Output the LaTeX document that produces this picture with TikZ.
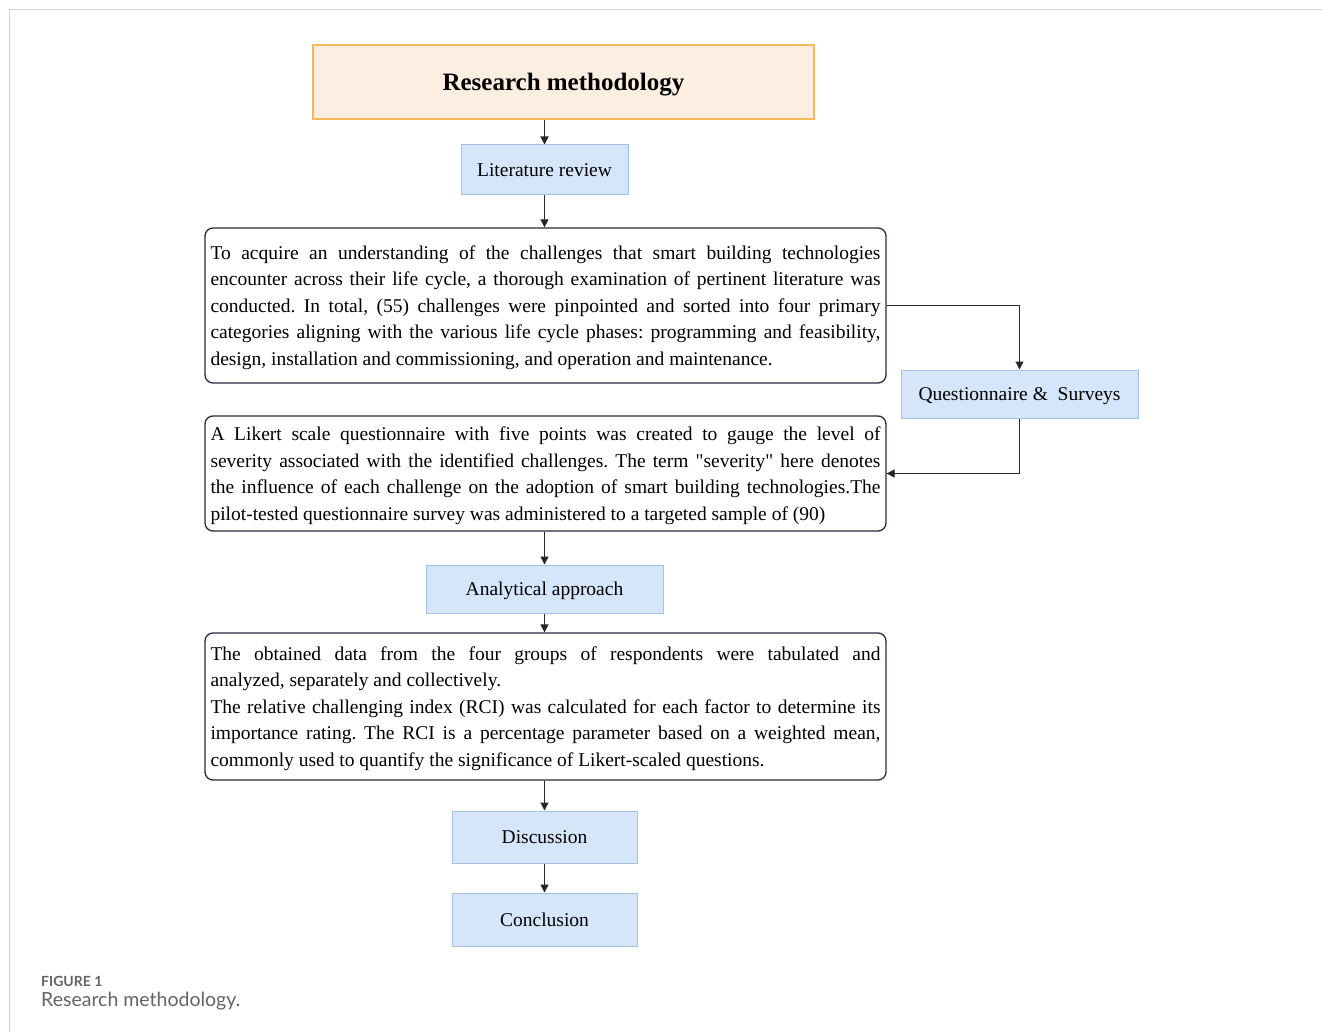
\documentclass[tikz,border=0pt]{standalone}
\usepackage{fontspec}
\setmainfont{Liberation Serif}
\newfontfamily\plainqf{Liberation Serif}
\newfontfamily\capfont{Lato}
\usetikzlibrary{arrows.meta}
\frenchspacing
\definecolor{bluefill}{RGB}{214,230,250}
\definecolor{blueline}{RGB}{165,193,230}
\definecolor{orfill}{RGB}{253,238,226}
\definecolor{orline}{RGB}{245,185,90}
\definecolor{navy}{RGB}{38,42,66}
\definecolor{framec}{RGB}{208,208,208}
\definecolor{capgray}{RGB}{100,100,100}
\newcommand{\jline}[1]{\makebox[670pt][s]{#1}\\}
\newcommand{\lline}[1]{\makebox[670pt][l]{#1}}
\newcommand{\sq}{{\plainqf\char"22}}
\tikzset{
  bluebox/.style={draw=blueline, fill=bluefill, line width=1pt, inner sep=0pt,
    font=\fontsize{19.5}{23}\selectfont, text height=17pt, text depth=4pt},
  txtbox/.style={draw=navy, rounded corners=8pt, line width=1.3pt, inner sep=0pt,
    minimum width=681pt},
  arr/.style={draw=black!85, line width=1.3pt, -{Triangle[length=8pt,width=8pt]}},
}
\begin{document}
\begin{tikzpicture}[x=1pt,y=-1pt]
\useasboundingbox (0,0) rectangle (1322,1032);
\draw[framec, line width=1.5pt] (9.5,1032) -- (9.5,9.5) -- (1322,9.5);

\node[draw=orline, fill=orfill, line width=1.3pt, inner sep=0pt,
  minimum width=501pt, minimum height=74pt, text height=22pt, text depth=5.5pt,
  font=\bfseries\fontsize{25}{30}\selectfont] (title) at (563.5,82) {Research methodology};

\node[bluebox, minimum width=167pt, minimum height=50pt] (lit) at (544.5,170) {Literature review};

\node[txtbox, minimum height=155pt] (b1) at (545.5,305.5) {\parbox{670pt}{\fontsize{19.5}{26.5}\selectfont\vspace*{4pt}
\jline{To acquire an understanding of the challenges that smart building technologies}
\jline{encounter across their life cycle, a thorough examination of pertinent literature was}
\jline{conducted. In total, (55) challenges were pinpointed and sorted into four primary}
\jline{categories aligning with the various life cycle phases: programming and feasibility,}
\lline{design, installation and commissioning, and operation and maintenance.}}};

\node[bluebox, minimum width=237pt, minimum height=48pt] (q) at (1019.5,394) {Questionnaire \&~ Surveys};

\node[txtbox, minimum height=115pt] (b2) at (545.5,473.5) {\parbox{670pt}{\fontsize{19.5}{26.5}\selectfont\vspace*{4pt}
\jline{A Likert scale questionnaire with five points was created to gauge the level of}
\jline{severity associated with the identified challenges. The term \sq severity\sq{} here denotes}
\jline{the influence of each challenge on the adoption of smart building technologies.The}
\lline{pilot-tested questionnaire survey was administered to a targeted sample of (90)}}};

\node[bluebox, minimum width=237pt, minimum height=48pt] (ana) at (544.5,589) {Analytical approach};

\node[txtbox, minimum height=147pt] (b3) at (545.5,706.5) {\parbox{670pt}{\fontsize{19.5}{26.5}\selectfont\vspace*{4pt}
\jline{The obtained data from the four groups of respondents were tabulated and}
\lline{analyzed, separately and collectively.}\\
\jline{The relative challenging index (RCI) was calculated for each factor to determine its}
\jline{importance rating. The RCI is a percentage parameter based on a weighted mean,}
\lline{commonly used to quantify the significance of Likert-scaled questions.}}};

\node[bluebox, minimum width=185pt, minimum height=52pt] (disc) at (544.5,837) {Discussion};
\node[bluebox, minimum width=185pt, minimum height=53pt] (conc) at (544.5,919.5) {Conclusion};

\draw[arr] (title.south -| lit.north) -- (lit.north);
\draw[arr] (lit.south) -- (lit.south |- b1.north);
\draw[arr] (b1.east) -| (q.north);
\draw[arr] (q.south) |- (b2.east);
\draw[arr] (b2.south -| ana.north) -- (ana.north);
\draw[arr] (ana.south) -- (ana.south |- b3.north);
\draw[arr] (b3.south -| disc.north) -- (disc.north);
\draw[arr] (disc.south) -- (conc.north);

\node[anchor=base west, inner sep=0pt, text=capgray, font=\capfont\bfseries\fontsize{14}{16}\selectfont] (fig) at (41,986) {FIGURE 1};
\node[anchor=base west, inner sep=0pt, text=capgray, font=\capfont\fontsize{19.5}{22}\selectfont] (cap) at (41,1006) {Research methodology.};
\end{tikzpicture}
\end{document}
